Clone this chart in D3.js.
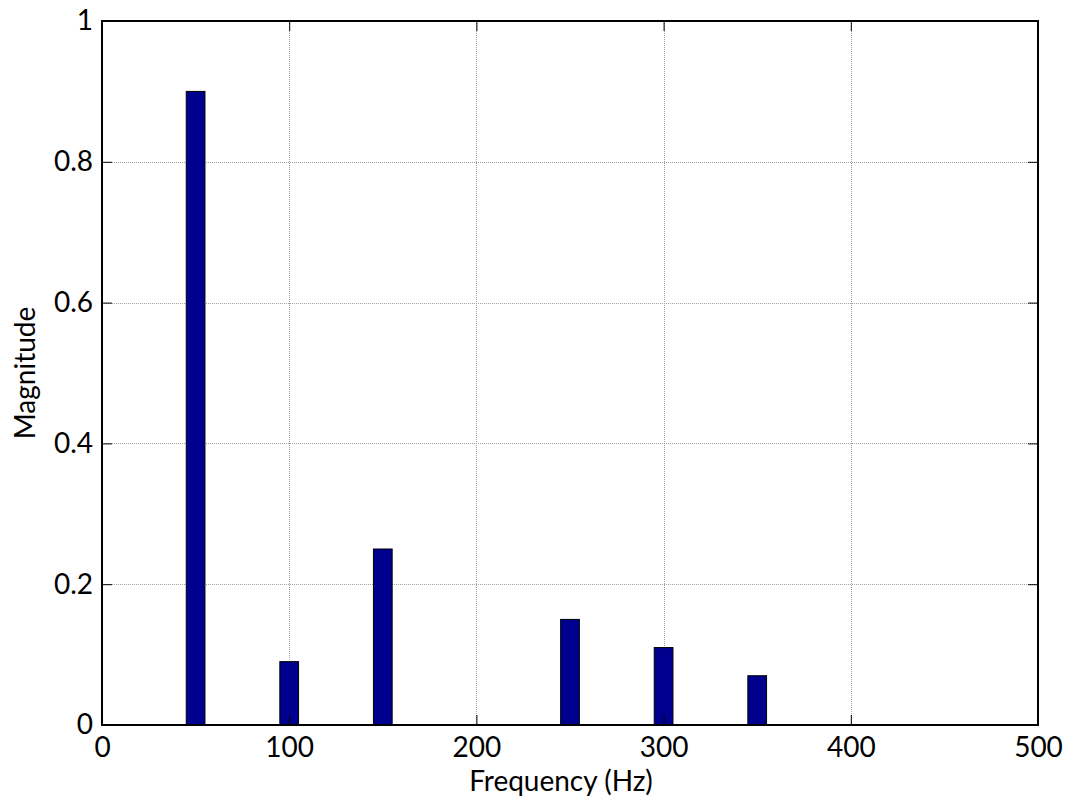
<!DOCTYPE html>
<html><head><meta charset="utf-8">
<script src="https://cdn.jsdelivr.net/npm/d3@7"></script>
<style>
html,body{margin:0;padding:0;background:#fff;}
text{font-family:Lato,"Open Sans",sans-serif;fill:#000;}
</style></head>
<body>
<svg id="chart" width="1073" height="800"></svg>
<script>
const frequencies = [50, 100, 150, 250, 300, 350];
const magnitudes = [0.90, 0.09, 0.25, 0.15, 0.11, 0.07];
const xTicks = [0, 100, 200, 300, 400, 500];
const yTicks = [0, 0.2, 0.4, 0.6, 0.8, 1];
const yTickLabels = ["0", "0.2", "0.4", "0.6", "0.8", "1"];
const xLabel = "Frequency (Hz)";
const yLabel = "Magnitude";
const barWidthHz = 10;

const svg = d3.select("#chart");
const L = 102, R = 1038, T = 21, B = 725;
const x = d3.scaleLinear().domain([0, 500]).range([L, R]);
const y = d3.scaleLinear().domain([0, 1]).range([B, T]);

// grid
const g = svg.append("g");
g.selectAll(".gx").data(xTicks.slice(1, -1)).enter().append("line")
  .attr("x1", d => Math.round(x(d)) + 0.5).attr("x2", d => Math.round(x(d)) + 0.5)
  .attr("y1", T).attr("y2", B)
  .attr("stroke", "#a0a0a0").attr("stroke-width", 1).attr("stroke-dasharray", "1,1");
g.selectAll(".gy").data(yTicks.slice(1, -1)).enter().append("line")
  .attr("y1", d => Math.round(y(d)) + 0.5).attr("y2", d => Math.round(y(d)) + 0.5)
  .attr("x1", L).attr("x2", R)
  .attr("stroke", "#a0a0a0").attr("stroke-width", 1).attr("stroke-dasharray", "1,1");

// bars
svg.selectAll(".bar").data(frequencies).enter().append("rect")
  .attr("x", d => x(d - barWidthHz / 2))
  .attr("width", d => x(d + barWidthHz / 2) - x(d - barWidthHz / 2))
  .attr("y", (d, i) => y(magnitudes[i]))
  .attr("height", (d, i) => y(0) - y(magnitudes[i]))
  .attr("fill", "#00008F").attr("stroke", "#000").attr("stroke-width", 1);

// axes with inward ticks
const tk = 10;
const xAxisB = d3.axisBottom(x).tickValues(xTicks).tickSize(-tk).tickPadding(12).tickFormat(d3.format("d"));
const xAxisT = d3.axisTop(x).tickValues(xTicks).tickSize(-tk).tickFormat("");
const yAxisL = d3.axisLeft(y).tickValues(yTicks).tickSize(-tk).tickPadding(9).tickFormat((d, i) => yTickLabels[i]);
const yAxisR = d3.axisRight(y).tickValues(yTicks).tickSize(-tk).tickFormat("");

function style(sel) {
  sel.select(".domain").remove();
  sel.selectAll(".tick line").attr("stroke", "#000").attr("stroke-width", 1);
  sel.selectAll("text").style("font-size", "28px").attr("fill", "#000");
}
svg.append("g").attr("transform", `translate(0,${B})`).call(xAxisB).call(style);
svg.append("g").attr("transform", `translate(0,${T})`).call(xAxisT).call(style);
svg.append("g").attr("transform", `translate(${L},0)`).call(yAxisL).call(style);
svg.append("g").attr("transform", `translate(${R},0)`).call(yAxisR).call(style);

// frame
svg.append("rect").attr("x", L).attr("y", T).attr("width", R - L).attr("height", B - T)
  .attr("fill", "none").attr("stroke", "#000").attr("stroke-width", 2);

// labels
svg.append("text").attr("x", 561).attr("y", 791).attr("text-anchor", "middle")
  .style("font-size", "28px").text(xLabel);
svg.append("text").attr("transform", `translate(35,${(T + B) / 2}) rotate(-90)`)
  .attr("text-anchor", "middle").style("font-size", "28px").text(yLabel);
</script>
</body></html>
